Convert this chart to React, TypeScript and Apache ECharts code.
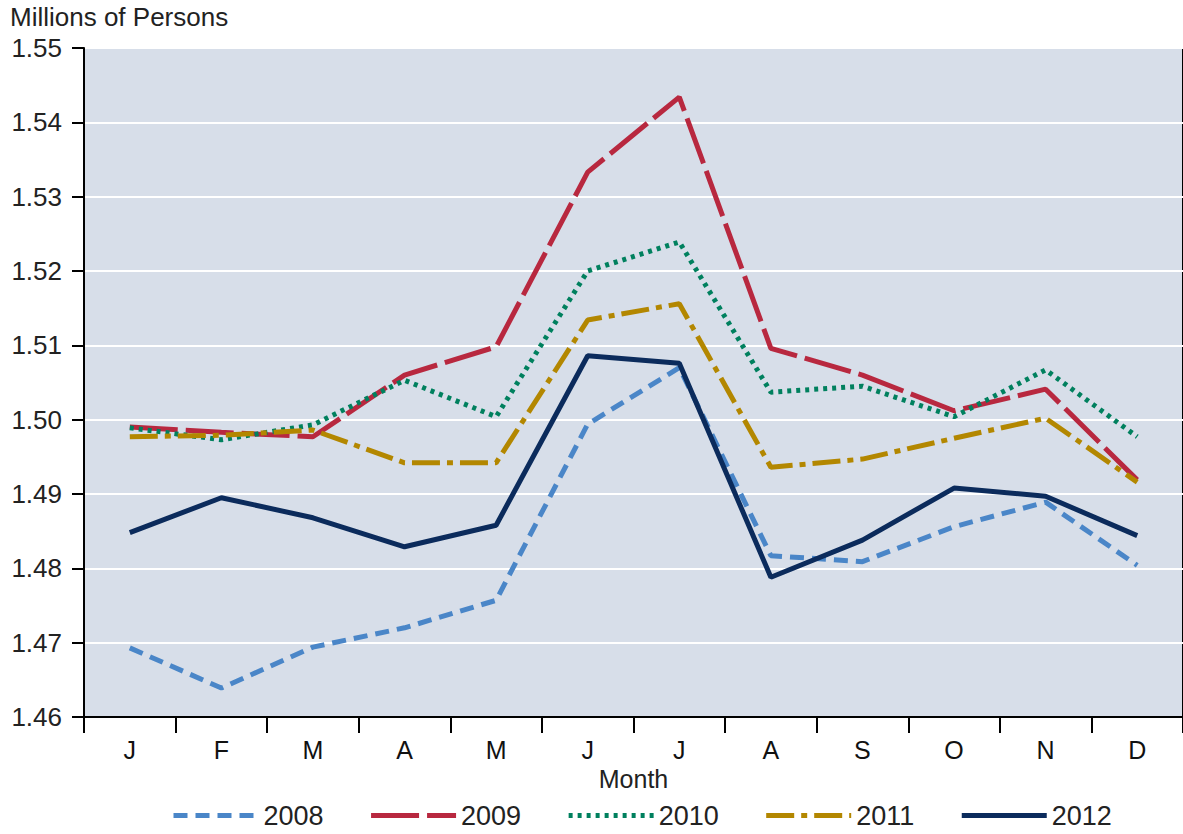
import React, { useEffect, useRef } from "react";
import * as echarts from "echarts";

const months = ["J", "F", "M", "A", "M", "J", "J", "A", "S", "O", "N", "D"];
const s2008 = [1.4693, 1.4639, 1.4694, 1.4720, 1.4757, 1.4994, 1.5070, 1.4817, 1.4809, 1.4856, 1.4889, 1.4804];
const s2009 = [1.4990, 1.4983, 1.4977, 1.5060, 1.5098, 1.5333, 1.5434, 1.5096, 1.5060, 1.5012, 1.5041, 1.4919];
const s2010 = [1.4989, 1.4973, 1.4993, 1.5053, 1.5004, 1.5200, 1.5239, 1.5037, 1.5045, 1.5004, 1.5067, 1.4977];
const s2011 = [1.4977, 1.4979, 1.4986, 1.4942, 1.4942, 1.5134, 1.5156, 1.4936, 1.4947, 1.4975, 1.5002, 1.4916];
const s2012 = [1.4848, 1.4895, 1.4868, 1.4829, 1.4858, 1.5086, 1.5076, 1.4788, 1.4838, 1.4908, 1.4897, 1.4844];

const seriesDefs = [
  { name: "2008", data: s2008, color: "#4a86c8", type: [14, 8] as any },
  { name: "2009", data: s2009, color: "#b8283f", type: [48, 8] as any },
  { name: "2010", data: s2010, color: "#00805e", type: [4, 5] as any },
  { name: "2011", data: s2011, color: "#b38700", type: [28, 7, 6, 7] as any },
  { name: "2012", data: s2012, color: "#0b2b5c", type: "solid" as any },
];

const FONT = "'Liberation Sans', Arial, sans-serif";

export default function App() {
  const ref = useRef<HTMLDivElement>(null);
  useEffect(() => {
    if (!ref.current) return;
    const chart = echarts.init(ref.current, undefined, { renderer: "svg" });
    chart.setOption({
      animation: false,
      textStyle: { fontFamily: FONT },
      grid: {
        left: 84,
        top: 48,
        width: 1104,
        height: 669,
        show: true,
        backgroundColor: "#d7dee9",
        borderColor: "#000",
        borderWidth: 2,
      },
      graphic: [
        {
          type: "text",
          left: 10,
          top: 4,
          style: { text: "Millions of Persons", font: `26px ${FONT}`, fill: "#222" },
        },
      ],
      legend: {
        bottom: 0,
        left: 166,
        itemWidth: 85,
        itemHeight: 14,
        itemGap: 45,
        itemStyle: { opacity: 0, borderWidth: 0 },
        lineStyle: { width: 5 },
        textStyle: { fontSize: 27, color: "#222", fontFamily: FONT },
        data: seriesDefs.map((s) => s.name),
      },
      xAxis: {
        type: "category",
        data: months,
        name: "Month",
        nameLocation: "middle",
        nameGap: 47,
        nameTextStyle: { fontSize: 25, color: "#222", fontFamily: FONT },
        axisLine: { lineStyle: { color: "#000", width: 2 } },
        axisTick: { show: true, length: 16, lineStyle: { color: "#000", width: 2 } },
        axisLabel: { fontSize: 25, color: "#111", margin: 20, fontFamily: FONT },
        boundaryGap: true,
      },
      yAxis: {
        type: "value",
        min: 1.46,
        max: 1.55,
        interval: 0.01,
        axisLine: { show: true, lineStyle: { color: "#000", width: 2 } },
        axisTick: { show: true, length: 12, lineStyle: { color: "#000", width: 2 } },
        axisLabel: {
          fontSize: 26,
          color: "#222",
          margin: 22,
          fontFamily: FONT,
          formatter: (v: number) => v.toFixed(2),
        },
        splitLine: { show: true, lineStyle: { color: "#fff", width: 2 } },
      },
      series: seriesDefs.map((s) => ({
        name: s.name,
        type: "line",
        data: s.data,
        symbol: "none",
        showSymbol: false,
        color: s.color,
        lineStyle: { color: s.color, width: 5, type: s.type, cap: "butt" },
        itemStyle: { color: s.color },
      })),
    });
    return () => chart.dispose();
  }, []);
  return <div ref={ref} style={{ width: 1183, height: 834, position: "absolute", left: 0, top: 0 }} />;
}
